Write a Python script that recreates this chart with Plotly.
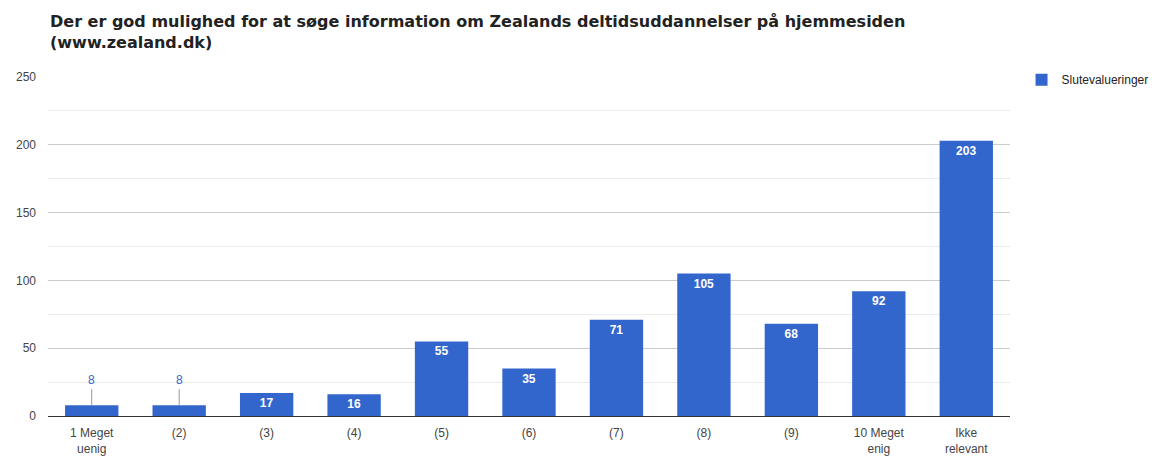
import plotly.graph_objects as go

categories = ["1 Meget<br>uenig", "(2)", "(3)", "(4)", "(5)", "(6)", "(7)", "(8)", "(9)", "10 Meget<br>enig", "Ikke<br>relevant"]
values = [8, 8, 17, 16, 55, 35, 71, 105, 68, 92, 203]
series_name = "Slutevalueringer"
title_text = "Der er god mulighed for at søge information om Zealands deltidsuddannelser på hjemmesiden<br>(www.zealand.dk)"
y_ticks = [0, 50, 100, 150, 200, 250]

BLUE = "#3366cc"
small_threshold = 10

textpos = ["none" if v < small_threshold else "inside" for v in values]

# page body has an 8px margin; size the figure so it fits the window
W, H = 1150, 449
L, T = 40, 69
PLOT_W, PLOT_H = 962, 339

fig = go.Figure()
fig.add_trace(go.Bar(
    x=categories, y=values, name=series_name,
    marker=dict(color=BLUE, line=dict(width=0)),
    text=["<b>" + str(v) + "</b>" for v in values],
    textposition=textpos,
    insidetextanchor="end",
    textangle=0,
    textfont=dict(color="white", size=12, family="Liberation Sans, Arial"),
    showlegend=True,
))

for c, v in zip(categories, values):
    if v < small_threshold:
        fig.add_annotation(
            x=c, y=v, text=str(v), showarrow=True, arrowhead=0, arrowwidth=1,
            arrowcolor="#999999", ax=0, ay=-16, standoff=0,
            font=dict(color=BLUE, size=12, family="Liberation Sans, Arial"),
            yanchor="bottom",
        )

fig.add_annotation(
    text="<b>" + title_text + "</b>", xref="paper", yref="paper",
    x=0, y=1 + (T - 2) / PLOT_H, xanchor="left", yanchor="top", align="left",
    showarrow=False, font=dict(family="DejaVu Sans", size=16, color="#222222"),
)

fig.update_layout(
    width=W, height=H,
    margin=dict(l=L, r=W - L - PLOT_W, t=T, b=H - T - PLOT_H, autoexpand=False),
    paper_bgcolor="white", plot_bgcolor="white",
    bargap=0.39,
    font=dict(family="Liberation Sans, Arial", size=12, color="#444444"),
    legend=dict(x=1.012, y=1.035, xanchor="left", yanchor="top",
                font=dict(size=12, color="#222222"), bgcolor="rgba(0,0,0,0)"),
    yaxis=dict(range=[0, 250], tickvals=y_ticks, showgrid=True, gridcolor="#cccccc",
               gridwidth=1, zeroline=False, showline=False, ticks="",
               tickfont=dict(size=12, color="#444444"), ticklabelstandoff=11,
               minor=dict(dtick=25, showgrid=True, gridcolor="#ebebeb", gridwidth=1)),
    xaxis=dict(showline=True, linecolor="#333333", linewidth=1, ticks="",
               tickfont=dict(size=12, color="#444444"), showgrid=False,
               ticklabelstandoff=6),
)

fig.write_html("out.html")
